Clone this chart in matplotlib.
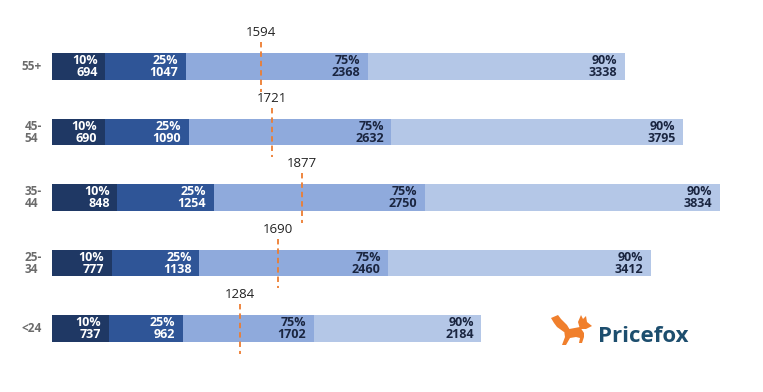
import matplotlib
matplotlib.use("Agg")
import matplotlib.pyplot as plt
from matplotlib.patches import Polygon
import numpy as np

groups = ["55+", "45-\n54", "35-\n44", "25-\n34", "<24"]
pct_labels = ["10%", "25%", "75%", "90%"]
p10 = [694, 690, 848, 777, 737]
p25 = [1047, 1090, 1254, 1138, 962]
p75 = [2368, 2632, 2750, 2460, 1702]
p90 = [3338, 3795, 3834, 3412, 2184]
median = [1594, 1721, 1877, 1690, 1284]

colors = ["#1f3864", "#2f5597", "#8faadc", "#b4c7e7"]
text_colors = ["white", "white", "#1a2540", "#1a2540"]

W, H = 763, 392
fig = plt.figure(figsize=(W / 100, H / 100), dpi=100)
ax = fig.add_axes([0, 0, 1, 1])
scale = 0.0769  # px per unit
x0px = 52
ax.set_xlim(-x0px / scale, (W - x0px) / scale)
row0, rowstep = 66.7, 65.5
ax.set_ylim((H - row0) / rowstep, -row0 / rowstep)
ax.axis("off")

series = [p10, p25, p75, p90]
bar_h = 26.5 / rowstep
font = "Open Sans"
for i, g in enumerate(groups):
    left = 0
    starts = []
    for s, (vals, c, tc, pl) in enumerate(zip(series, colors, text_colors, pct_labels)):
        v = vals[i]
        ax.barh(i, v, left=left, height=bar_h, color=c, edgecolor="none")
        starts.append(left)
        ax.annotate(f"{pl}\n{v}", xy=(left + v, i), xytext=(-5.5, 0),
                    textcoords="offset points", ha="right", va="center",
                    fontsize=9, fontweight="bold", color=tc, family=font,
                    linespacing=0.9, multialignment="right")
        left += v
    # median marker interpolated within 75% segment
    frac = (median[i] - p25[i]) / (p75[i] - p25[i])
    mx = starts[2] + frac * p75[i]
    ax.plot([mx, mx], [i - 24.5 / rowstep, i + 25 / rowstep], color="#ed7d31",
            lw=1.3, ls=(0, (3, 2.2)))
    ax.text(mx, i - 34 / rowstep, str(median[i]), ha="center", va="center",
            fontsize=9.5, color="#222222", family=font)
    ax.text(-10 / scale, i, g, ha="right", va="center", fontsize=8.5,
            fontweight="bold", color="#6b6b6b", family=font, linespacing=0.9,
            multialignment="left")

# logo
def fp(pts, ox=551, oy=315):
    return [((ox + x) / W, 1 - (oy + y) / H) for x, y in pts]

fox = "#f07f2c"
tail = [(0, 3), (7, 0), (10, 4), (16, 10), (19, 15), (13, 17), (6, 12), (3, 8)]
body = [(13, 15), (29, 12), (33, 18), (33, 22), (31, 28), (28, 28), (29, 23), (25, 22),
        (19, 23), (15, 30), (11, 30), (14, 22)]
head = [(27, 7), (30, 0), (32, 4), (35, 1), (36, 7), (41, 11), (35, 14), (29, 14)]
for shp in (tail, body, head):
    fig.add_artist(Polygon(fp(shp), closed=True, facecolor=fox, edgecolor="none",
                           transform=fig.transFigure))
fig.text(598 / W, 1 - 342 / H, "Pricefox", ha="left", va="baseline", fontsize=16,
         fontweight="bold", color="#1d4e6e", family=font)

fig.savefig("out.png", dpi=100, facecolor="white")
